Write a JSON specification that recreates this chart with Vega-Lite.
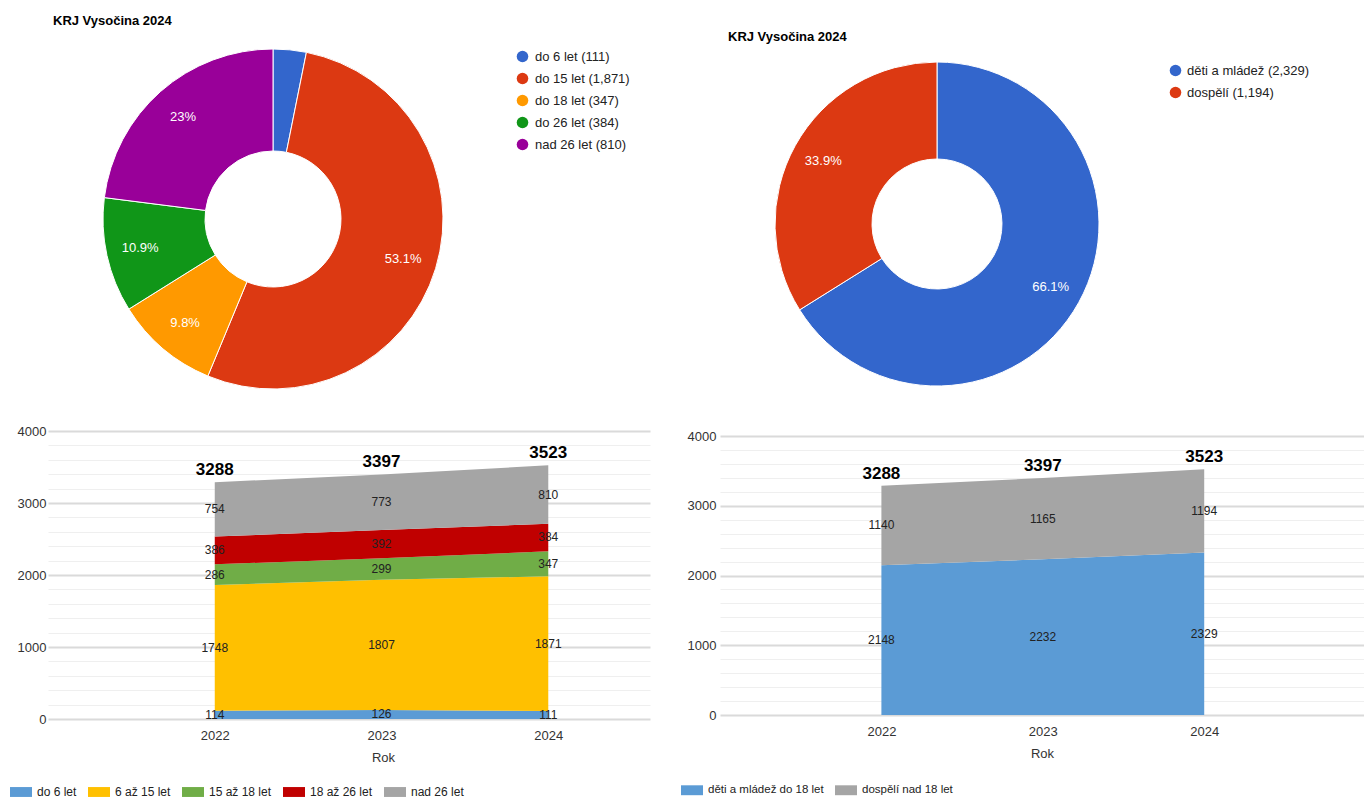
{
  "$schema": "https://vega.github.io/schema/vega-lite/v6.json",
  "background": "white",
  "padding": {"left": 10, "top": 15, "right": 0, "bottom": 0},
  "config": {
    "font": "Liberation Sans",
    "view": {"stroke": null}
  },
  "datasets": {
    "vek2024": [
      {"kategorie": "do 6 let (111)", "pocet": 111, "poradi": 1, "podil": ""},
      {"kategorie": "do 15 let (1,871)", "pocet": 1871, "poradi": 2, "podil": "53.1%"},
      {"kategorie": "do 18 let (347)", "pocet": 347, "poradi": 3, "podil": "9.8%"},
      {"kategorie": "do 26 let (384)", "pocet": 384, "poradi": 4, "podil": "10.9%"},
      {"kategorie": "nad 26 let (810)", "pocet": 810, "poradi": 5, "podil": "23%"}
    ],
    "skupiny2024": [
      {"kategorie": "děti a mládež (2,329)", "pocet": 2329, "poradi": 1, "podil": "66.1%"},
      {"kategorie": "dospělí (1,194)", "pocet": 1194, "poradi": 2, "podil": "33.9%"}
    ],
    "vekRoky": [
      {"rok": 2022, "skupina": "do 6 let", "pocet": 114, "poradi": 1},
      {"rok": 2022, "skupina": "6 až 15 let", "pocet": 1748, "poradi": 2},
      {"rok": 2022, "skupina": "15 až 18 let", "pocet": 286, "poradi": 3},
      {"rok": 2022, "skupina": "18 až 26 let", "pocet": 386, "poradi": 4},
      {"rok": 2022, "skupina": "nad 26 let", "pocet": 754, "poradi": 5},
      {"rok": 2023, "skupina": "do 6 let", "pocet": 126, "poradi": 1},
      {"rok": 2023, "skupina": "6 až 15 let", "pocet": 1807, "poradi": 2},
      {"rok": 2023, "skupina": "15 až 18 let", "pocet": 299, "poradi": 3},
      {"rok": 2023, "skupina": "18 až 26 let", "pocet": 392, "poradi": 4},
      {"rok": 2023, "skupina": "nad 26 let", "pocet": 773, "poradi": 5},
      {"rok": 2024, "skupina": "do 6 let", "pocet": 111, "poradi": 1},
      {"rok": 2024, "skupina": "6 až 15 let", "pocet": 1871, "poradi": 2},
      {"rok": 2024, "skupina": "15 až 18 let", "pocet": 347, "poradi": 3},
      {"rok": 2024, "skupina": "18 až 26 let", "pocet": 384, "poradi": 4},
      {"rok": 2024, "skupina": "nad 26 let", "pocet": 810, "poradi": 5}
    ],
    "skupinyRoky": [
      {"rok": 2022, "skupina": "děti a mládež do 18 let", "pocet": 2148, "poradi": 1},
      {"rok": 2022, "skupina": "dospělí nad 18 let", "pocet": 1140, "poradi": 2},
      {"rok": 2023, "skupina": "děti a mládež do 18 let", "pocet": 2232, "poradi": 1},
      {"rok": 2023, "skupina": "dospělí nad 18 let", "pocet": 1165, "poradi": 2},
      {"rok": 2024, "skupina": "děti a mládež do 18 let", "pocet": 2329, "poradi": 1},
      {"rok": 2024, "skupina": "dospělí nad 18 let", "pocet": 1194, "poradi": 2}
    ],
    "celkem": [
      {"rok": 2022, "celkem": 3288},
      {"rok": 2023, "celkem": 3397},
      {"rok": 2024, "celkem": 3523}
    ]
  },
  "bounds": "flush",
  "columns": 2,
  "spacing": {"row": 0, "column": 70},
  "resolve": {
    "scale": {"color": "independent", "theta": "independent", "x": "independent", "y": "independent"},
    "legend": {"color": "independent"}
  },
  "concat": [
    {
      "width": 450,
      "height": 404,
      "title": {"text": "KRJ Vysočina 2024", "anchor": "start", "frame": "group", "dx": 5, "offset": -11, "fontSize": 13, "fontWeight": "bold", "color": "#000000"},
      "data": {"name": "vek2024"},
      "encoding": {
        "theta": {"field": "pocet", "type": "quantitative", "stack": true},
        "order": {"field": "poradi", "type": "quantitative"}
      },
      "layer": [
        {
          "mark": {"type": "arc", "outerRadius": 170, "innerRadius": 68, "stroke": "#ffffff", "strokeWidth": 1},
          "encoding": {
            "color": {
              "field": "kategorie", "type": "nominal",
              "scale": {
                "domain": ["do 6 let (111)", "do 15 let (1,871)", "do 18 let (347)", "do 26 let (384)", "nad 26 let (810)"],
                "range": ["#3366cc", "#dc3912", "#ff9900", "#109618", "#990099"]
              },
              "legend": {
                "title": null, "orient": "none", "legendX": 468, "legendY": 33, "direction": "vertical",
                "symbolType": "circle", "symbolSize": 133, "symbolStrokeWidth": 0, "symbolOpacity": 1,
                "labelFontSize": 13, "labelColor": "#222222", "labelOffset": 6, "rowPadding": 8
              }
            }
          }
        },
        {
          "mark": {"type": "text", "radius": 136, "fill": "#ffffff", "fontSize": 13, "align": "center", "baseline": "middle"},
          "encoding": {
            "detail": {"field": "kategorie", "type": "nominal"},
            "text": {"field": "podil", "type": "nominal"}
          }
        }
      ]
    },
    {
      "width": 434,
      "height": 414,
      "title": {"text": "KRJ Vysočina 2024", "anchor": "start", "frame": "group", "dx": 8, "offset": -27, "fontSize": 13, "fontWeight": "bold", "color": "#000000"},
      "data": {"name": "skupiny2024"},
      "encoding": {
        "theta": {"field": "pocet", "type": "quantitative", "stack": true},
        "order": {"field": "poradi", "type": "quantitative"}
      },
      "layer": [
        {
          "mark": {"type": "arc", "outerRadius": 162, "innerRadius": 65, "stroke": "#ffffff", "strokeWidth": 1},
          "encoding": {
            "color": {
              "field": "kategorie", "type": "nominal",
              "scale": {
                "domain": ["děti a mládež (2,329)", "dospělí (1,194)"],
                "range": ["#3366cc", "#dc3912"]
              },
              "legend": {
                "title": null, "orient": "none", "legendX": 449, "legendY": 47, "direction": "vertical",
                "symbolType": "circle", "symbolSize": 133, "symbolStrokeWidth": 0, "symbolOpacity": 1,
                "labelFontSize": 13, "labelColor": "#222222", "labelOffset": 5, "rowPadding": 8
              }
            }
          }
        },
        {
          "mark": {"type": "text", "radius": 130, "fill": "#ffffff", "fontSize": 13, "align": "center", "baseline": "middle"},
          "encoding": {
            "detail": {"field": "kategorie", "type": "nominal"},
            "text": {"field": "podil", "type": "nominal"}
          }
        }
      ]
    },
    {
      "width": 602,
      "height": 288,
      "layer": [
        {
          "data": {"name": "vekRoky"},
          "mark": {"type": "area", "opacity": 1},
          "encoding": {
            "x": {
              "field": "rok", "type": "quantitative",
              "scale": {"domain": [2021, 2024.61], "nice": false, "zero": false},
              "axis": {"values": [2022, 2023, 2024], "format": "d", "title": "Rok", "grid": false, "domain": false, "ticks": false, "labelFontSize": 13, "labelColor": "#333333", "labelPadding": 10, "titleFontSize": 13, "titleFontWeight": "normal", "titleColor": "#333333", "titlePadding": 9, "titleX": 335}
            },
            "y": {
              "field": "pocet", "type": "quantitative", "stack": "zero",
              "scale": {"domain": [0, 4000], "nice": false},
              "axis": {
                "values": [0, 200, 400, 600, 800, 1000, 1200, 1400, 1600, 1800, 2000, 2200, 2400, 2600, 2800, 3000, 3200, 3400, 3600, 3800, 4000],
                "tickCount": 30,
                "format": "d", "title": null, "domain": false, "ticks": false, "labelOverlap": false,
                "labelExpr": "datum.value % 1000 === 0 ? datum.label : ''",
                "labelFontSize": 13, "labelColor": "#333333", "labelPadding": 2,
                "gridColor": {"condition": {"test": "datum.value % 1000 === 0", "value": "#dadada"}, "value": "#efefef"},
                "gridWidth": {"condition": {"test": "datum.value % 1000 === 0", "value": 2}, "value": 1}
              }
            },
            "order": {"field": "poradi", "type": "quantitative"},
            "color": {
              "field": "skupina", "type": "nominal",
              "scale": {
                "domain": ["do 6 let", "6 až 15 let", "15 až 18 let", "18 až 26 let", "nad 26 let"],
                "range": ["#5b9bd5", "#ffc000", "#70ad47", "#c00000", "#a5a5a5"]
              },
              "legend": {
                "title": null, "orient": "none", "legendX": -38, "legendY": 350, "direction": "horizontal",
                "symbolType": "M-1,-0.45H1V0.45H-1Z", "symbolSize": 484, "symbolStrokeWidth": 0, "symbolOpacity": 1,
                "labelFontSize": 12, "labelColor": "#222222", "labelOffset": 5, "columnPadding": 11
              }
            }
          }
        },
        {
          "data": {"name": "vekRoky"},
          "transform": [
            {"stack": "pocet", "groupby": ["rok"], "sort": [{"field": "poradi"}], "as": ["od", "do"]},
            {"calculate": "(datum.od + datum.do) / 2", "as": "stred"}
          ],
          "mark": {"type": "text", "fontSize": 12, "color": "#222222", "align": "center", "baseline": "middle"},
          "encoding": {
            "x": {"field": "rok", "type": "quantitative"},
            "y": {"field": "stred", "type": "quantitative"},
            "text": {"field": "pocet", "type": "quantitative"}
          }
        },
        {
          "data": {"name": "celkem"},
          "mark": {"type": "text", "fontSize": 17, "fontWeight": "bold", "color": "#000000", "align": "center", "baseline": "bottom", "dy": -3},
          "encoding": {
            "x": {"field": "rok", "type": "quantitative"},
            "y": {"field": "celkem", "type": "quantitative"},
            "text": {"field": "celkem", "type": "quantitative"}
          }
        }
      ]
    },
    {
      "width": 644,
      "height": 284,
      "layer": [
        {
          "data": {"name": "skupinyRoky"},
          "mark": {"type": "area", "opacity": 1},
          "encoding": {
            "x": {
              "field": "rok", "type": "quantitative",
              "scale": {"domain": [2021, 2024.99], "nice": false, "zero": false},
              "axis": {"values": [2022, 2023, 2024], "format": "d", "title": "Rok", "grid": false, "domain": false, "ticks": false, "labelFontSize": 13, "labelColor": "#333333", "labelPadding": 10, "titleFontSize": 13, "titleFontWeight": "normal", "titleColor": "#333333", "titlePadding": 9}
            },
            "y": {
              "field": "pocet", "type": "quantitative", "stack": "zero",
              "scale": {"domain": [0, 4072], "nice": false},
              "axis": {
                "values": [0, 200, 400, 600, 800, 1000, 1200, 1400, 1600, 1800, 2000, 2200, 2400, 2600, 2800, 3000, 3200, 3400, 3600, 3800, 4000],
                "tickCount": 30,
                "format": "d", "title": null, "domain": false, "ticks": false, "labelOverlap": false,
                "labelExpr": "datum.value % 1000 === 0 ? datum.label : ''",
                "labelFontSize": 13, "labelColor": "#333333", "labelPadding": 4,
                "gridColor": {"condition": {"test": "datum.value % 1000 === 0", "value": "#dadada"}, "value": "#efefef"},
                "gridWidth": {"condition": {"test": "datum.value % 1000 === 0", "value": 2}, "value": 1}
              }
            },
            "order": {"field": "poradi", "type": "quantitative"},
            "color": {
              "field": "skupina", "type": "nominal",
              "scale": {
                "domain": ["děti a mládež do 18 let", "dospělí nad 18 let"],
                "range": ["#5b9bd5", "#a5a5a5"]
              },
              "legend": {
                "title": null, "orient": "none", "legendX": -39, "legendY": 348, "direction": "horizontal",
                "symbolType": "M-1,-0.45H1V0.45H-1Z", "symbolSize": 484, "symbolStrokeWidth": 0, "symbolOpacity": 1,
                "labelFontSize": 11.5, "labelColor": "#222222", "labelOffset": 5, "columnPadding": 11
              }
            }
          }
        },
        {
          "data": {"name": "skupinyRoky"},
          "transform": [
            {"stack": "pocet", "groupby": ["rok"], "sort": [{"field": "poradi"}], "as": ["od", "do"]},
            {"calculate": "(datum.od + datum.do) / 2", "as": "stred"}
          ],
          "mark": {"type": "text", "fontSize": 12, "color": "#222222", "align": "center", "baseline": "middle"},
          "encoding": {
            "x": {"field": "rok", "type": "quantitative"},
            "y": {"field": "stred", "type": "quantitative"},
            "text": {"field": "pocet", "type": "quantitative"}
          }
        },
        {
          "data": {"name": "celkem"},
          "mark": {"type": "text", "fontSize": 17, "fontWeight": "bold", "color": "#000000", "align": "center", "baseline": "bottom", "dy": -3},
          "encoding": {
            "x": {"field": "rok", "type": "quantitative"},
            "y": {"field": "celkem", "type": "quantitative"},
            "text": {"field": "celkem", "type": "quantitative"}
          }
        }
      ]
    }
  ]
}
